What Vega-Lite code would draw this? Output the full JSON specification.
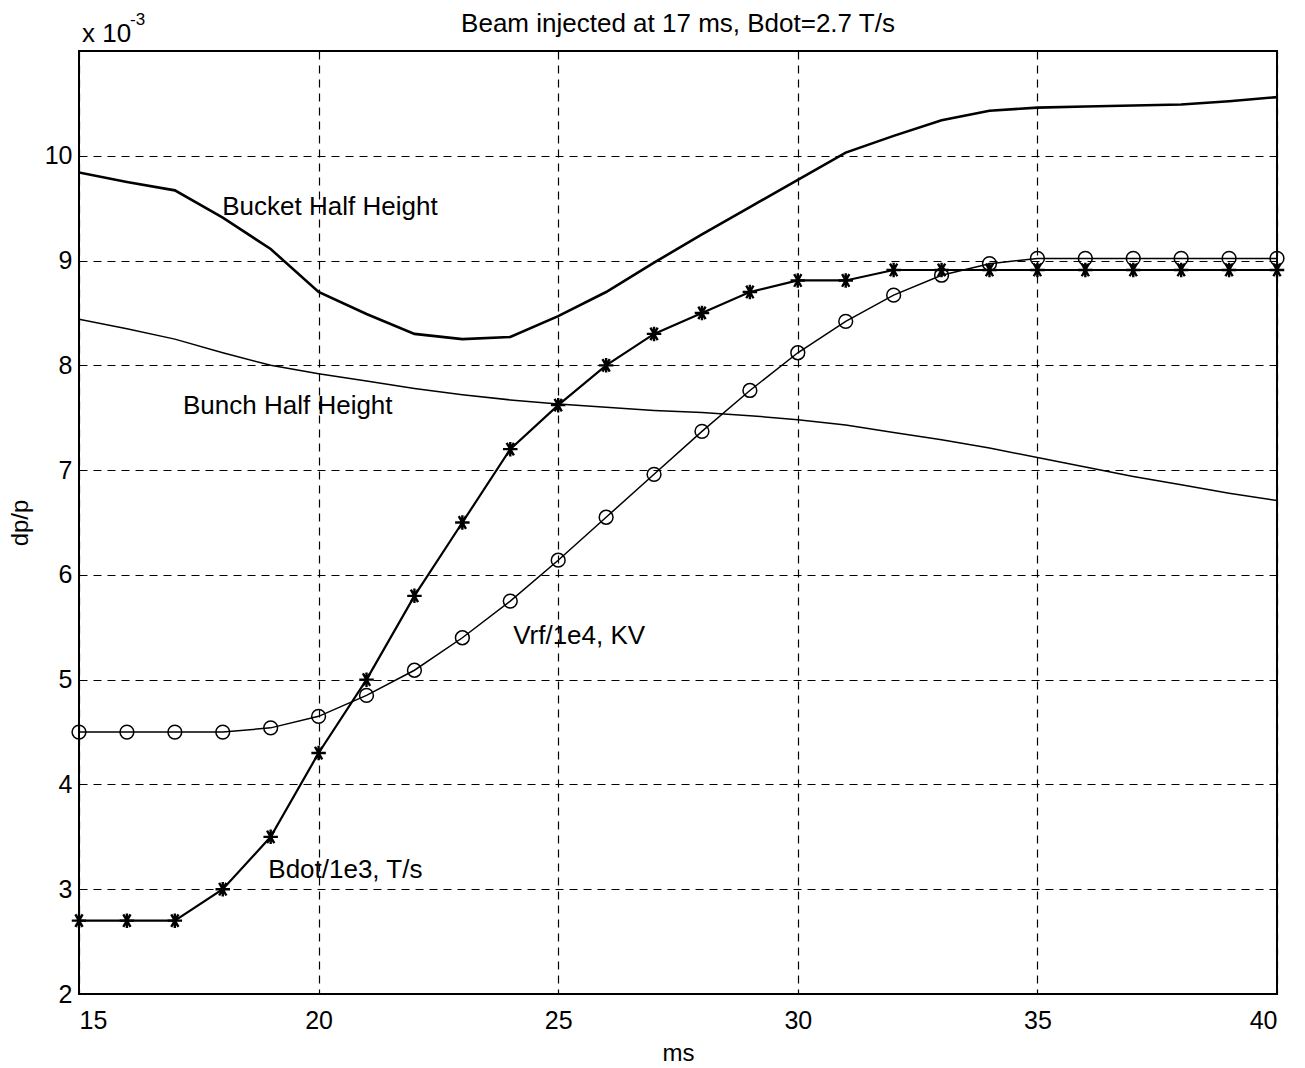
{
  "$schema": "https://vega.github.io/schema/vega-lite/v6.json",
  "width": 1198,
  "height": 943,
  "autosize": {"type": "none"},
  "padding": {"left": 79, "top": 51, "right": 28, "bottom": 74},
  "background": "white",
  "config": {
    "font": "Liberation Sans",
    "view": {"stroke": "black", "strokeWidth": 2},
    "axis": {
      "domain": false,
      "ticks": false,
      "tickSize": 0,
      "grid": true,
      "gridColor": "black",
      "gridDash": [8, 6],
      "gridWidth": 1.2,
      "gridOpacity": 1,
      "labelFont": "Liberation Sans",
      "labelFontSize": 25,
      "labelColor": "black",
      "titleFont": "Liberation Sans",
      "titleFontSize": 24,
      "titleFontWeight": "normal",
      "titleColor": "black"
    }
  },
  "title": {
    "text": "Beam injected at 17 ms, Bdot=2.7 T/s",
    "font": "Liberation Sans",
    "fontSize": 26,
    "fontWeight": "normal",
    "color": "black",
    "anchor": "middle",
    "baseline": "bottom",
    "offset": 0,
    "dy": 52
  },
  "datasets": {
    "curves": [
      {"series": "Bucket", "ms": 15, "value": 9.84},
      {"series": "Bucket", "ms": 16, "value": 9.75},
      {"series": "Bucket", "ms": 17, "value": 9.67},
      {"series": "Bucket", "ms": 18, "value": 9.41},
      {"series": "Bucket", "ms": 19, "value": 9.11},
      {"series": "Bucket", "ms": 20, "value": 8.70},
      {"series": "Bucket", "ms": 21, "value": 8.49},
      {"series": "Bucket", "ms": 22, "value": 8.30},
      {"series": "Bucket", "ms": 23, "value": 8.25},
      {"series": "Bucket", "ms": 24, "value": 8.27},
      {"series": "Bucket", "ms": 25, "value": 8.47},
      {"series": "Bucket", "ms": 26, "value": 8.70},
      {"series": "Bucket", "ms": 27, "value": 8.98},
      {"series": "Bucket", "ms": 28, "value": 9.25},
      {"series": "Bucket", "ms": 29, "value": 9.51},
      {"series": "Bucket", "ms": 30, "value": 9.77},
      {"series": "Bucket", "ms": 31, "value": 10.03},
      {"series": "Bucket", "ms": 32, "value": 10.19},
      {"series": "Bucket", "ms": 33, "value": 10.34},
      {"series": "Bucket", "ms": 34, "value": 10.43},
      {"series": "Bucket", "ms": 35, "value": 10.46},
      {"series": "Bucket", "ms": 36, "value": 10.47},
      {"series": "Bucket", "ms": 37, "value": 10.48},
      {"series": "Bucket", "ms": 38, "value": 10.49},
      {"series": "Bucket", "ms": 39, "value": 10.52},
      {"series": "Bucket", "ms": 40, "value": 10.56},
      {"series": "Bunch", "ms": 15, "value": 8.44},
      {"series": "Bunch", "ms": 16, "value": 8.35},
      {"series": "Bunch", "ms": 17, "value": 8.25},
      {"series": "Bunch", "ms": 18, "value": 8.12},
      {"series": "Bunch", "ms": 19, "value": 8.00},
      {"series": "Bunch", "ms": 20, "value": 7.92},
      {"series": "Bunch", "ms": 21, "value": 7.85},
      {"series": "Bunch", "ms": 22, "value": 7.78},
      {"series": "Bunch", "ms": 23, "value": 7.72},
      {"series": "Bunch", "ms": 24, "value": 7.67},
      {"series": "Bunch", "ms": 25, "value": 7.63},
      {"series": "Bunch", "ms": 26, "value": 7.60},
      {"series": "Bunch", "ms": 27, "value": 7.57},
      {"series": "Bunch", "ms": 28, "value": 7.55},
      {"series": "Bunch", "ms": 29, "value": 7.52},
      {"series": "Bunch", "ms": 30, "value": 7.48},
      {"series": "Bunch", "ms": 31, "value": 7.43},
      {"series": "Bunch", "ms": 32, "value": 7.36},
      {"series": "Bunch", "ms": 33, "value": 7.29},
      {"series": "Bunch", "ms": 34, "value": 7.21},
      {"series": "Bunch", "ms": 35, "value": 7.12},
      {"series": "Bunch", "ms": 36, "value": 7.03},
      {"series": "Bunch", "ms": 37, "value": 6.94},
      {"series": "Bunch", "ms": 38, "value": 6.86},
      {"series": "Bunch", "ms": 39, "value": 6.78},
      {"series": "Bunch", "ms": 40, "value": 6.71},
      {"series": "Bdot", "ms": 15, "value": 2.70},
      {"series": "Bdot", "ms": 16, "value": 2.70},
      {"series": "Bdot", "ms": 17, "value": 2.70},
      {"series": "Bdot", "ms": 18, "value": 3.00},
      {"series": "Bdot", "ms": 19, "value": 3.50},
      {"series": "Bdot", "ms": 20, "value": 4.30},
      {"series": "Bdot", "ms": 21, "value": 5.00},
      {"series": "Bdot", "ms": 22, "value": 5.80},
      {"series": "Bdot", "ms": 23, "value": 6.50},
      {"series": "Bdot", "ms": 24, "value": 7.20},
      {"series": "Bdot", "ms": 25, "value": 7.62},
      {"series": "Bdot", "ms": 26, "value": 8.00},
      {"series": "Bdot", "ms": 27, "value": 8.30},
      {"series": "Bdot", "ms": 28, "value": 8.50},
      {"series": "Bdot", "ms": 29, "value": 8.70},
      {"series": "Bdot", "ms": 30, "value": 8.81},
      {"series": "Bdot", "ms": 31, "value": 8.81},
      {"series": "Bdot", "ms": 32, "value": 8.91},
      {"series": "Bdot", "ms": 33, "value": 8.91},
      {"series": "Bdot", "ms": 34, "value": 8.91},
      {"series": "Bdot", "ms": 35, "value": 8.91},
      {"series": "Bdot", "ms": 36, "value": 8.91},
      {"series": "Bdot", "ms": 37, "value": 8.91},
      {"series": "Bdot", "ms": 38, "value": 8.91},
      {"series": "Bdot", "ms": 39, "value": 8.91},
      {"series": "Bdot", "ms": 40, "value": 8.91},
      {"series": "Vrf", "ms": 15, "value": 4.50},
      {"series": "Vrf", "ms": 16, "value": 4.50},
      {"series": "Vrf", "ms": 17, "value": 4.50},
      {"series": "Vrf", "ms": 18, "value": 4.50},
      {"series": "Vrf", "ms": 19, "value": 4.54},
      {"series": "Vrf", "ms": 20, "value": 4.65},
      {"series": "Vrf", "ms": 21, "value": 4.85},
      {"series": "Vrf", "ms": 22, "value": 5.09},
      {"series": "Vrf", "ms": 23, "value": 5.40},
      {"series": "Vrf", "ms": 24, "value": 5.75},
      {"series": "Vrf", "ms": 25, "value": 6.14},
      {"series": "Vrf", "ms": 26, "value": 6.55},
      {"series": "Vrf", "ms": 27, "value": 6.96},
      {"series": "Vrf", "ms": 28, "value": 7.37},
      {"series": "Vrf", "ms": 29, "value": 7.76},
      {"series": "Vrf", "ms": 30, "value": 8.12},
      {"series": "Vrf", "ms": 31, "value": 8.42},
      {"series": "Vrf", "ms": 32, "value": 8.67},
      {"series": "Vrf", "ms": 33, "value": 8.86},
      {"series": "Vrf", "ms": 34, "value": 8.97},
      {"series": "Vrf", "ms": 35, "value": 9.02},
      {"series": "Vrf", "ms": 36, "value": 9.02},
      {"series": "Vrf", "ms": 37, "value": 9.02},
      {"series": "Vrf", "ms": 38, "value": 9.02},
      {"series": "Vrf", "ms": 39, "value": 9.02},
      {"series": "Vrf", "ms": 40, "value": 9.02}
    ],
    "labels": [
      {"ms": 17.99, "value": 9.51, "text": "Bucket Half Height"},
      {"ms": 17.17, "value": 7.61, "text": "Bunch Half Height"},
      {"ms": 24.06, "value": 5.42, "text": "Vrf/1e4, KV"},
      {"ms": 18.95, "value": 3.18, "text": "Bdot/1e3, T/s"}
    ],
    "exponent": [
      {"ms": 15, "value": 11, "text": "x 10", "sup": "-3"}
    ]
  },
  "encoding": {
    "x": {
      "field": "ms",
      "type": "quantitative",
      "scale": {"domain": [15, 40], "nice": false, "zero": false},
      "axis": {"values": [15, 20, 25, 30, 35, 40], "title": "ms", "labelPadding": 14, "titlePadding": 8}
    },
    "y": {
      "field": "value",
      "type": "quantitative",
      "scale": {"domain": [2, 11], "nice": false, "zero": false},
      "axis": {"values": [2, 3, 4, 5, 6, 7, 8, 9, 10], "title": "dp/p", "labelPadding": 7, "titlePadding": 12}
    }
  },
  "layer": [
    {
      "data": {"name": "curves"},
      "transform": [{"filter": "datum.series === 'Bucket'"}],
      "mark": {"type": "line", "color": "black", "strokeWidth": 2.6, "clip": true}
    },
    {
      "data": {"name": "curves"},
      "transform": [{"filter": "datum.series === 'Bunch'"}],
      "mark": {"type": "line", "color": "black", "strokeWidth": 1.5, "clip": true}
    },
    {
      "data": {"name": "curves"},
      "transform": [{"filter": "datum.series === 'Bdot'"}],
      "mark": {"type": "line", "color": "black", "strokeWidth": 2.2, "clip": true}
    },
    {
      "data": {"name": "curves"},
      "transform": [{"filter": "datum.series === 'Bdot'"}],
      "mark": {"type": "point", "shape": "M-1,0L1,0M-0.5,-0.866L0.5,0.866M-0.5,0.866L0.5,-0.866M0,-1L0,1", "filled": false, "color": "black", "strokeWidth": 2.4, "size": 210, "opacity": 1}
    },
    {
      "data": {"name": "curves"},
      "transform": [{"filter": "datum.series === 'Vrf'"}],
      "mark": {"type": "line", "color": "black", "strokeWidth": 1.5, "clip": true}
    },
    {
      "data": {"name": "curves"},
      "transform": [{"filter": "datum.series === 'Vrf'"}],
      "mark": {"type": "point", "shape": "circle", "filled": false, "color": "black", "strokeWidth": 1.5, "size": 190, "opacity": 1}
    },
    {
      "data": {"name": "labels"},
      "mark": {"type": "text", "align": "left", "baseline": "middle", "font": "Liberation Sans", "fontSize": 26, "color": "black"},
      "encoding": {"text": {"field": "text"}}
    },
    {
      "data": {"name": "exponent"},
      "mark": {"type": "text", "align": "left", "baseline": "alphabetic", "font": "Liberation Sans", "fontSize": 26, "color": "black", "dx": 3, "dy": -9},
      "encoding": {"text": {"field": "text"}}
    },
    {
      "data": {"name": "exponent"},
      "mark": {"type": "text", "align": "left", "baseline": "alphabetic", "font": "Liberation Sans", "fontSize": 17, "color": "black", "dx": 51, "dy": -26},
      "encoding": {"text": {"field": "sup"}}
    }
  ]
}
